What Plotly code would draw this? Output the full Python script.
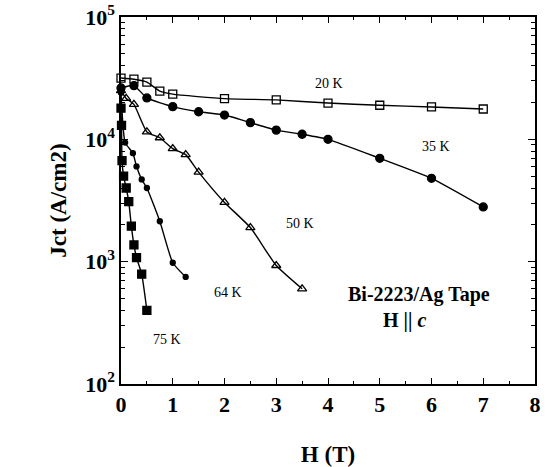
import plotly.graph_objects as go

# Critical current density vs applied field, Bi-2223/Ag tape, H || c
h_20k = [0.0, 0.25, 0.5, 0.75, 1.0, 2.0, 3.0, 4.0, 5.0, 6.0, 7.0]
j_20k = [31700, 31000, 29400, 24800, 23400, 21500, 21000, 19800, 19000, 18400, 17700]

h_35k = [0.0, 0.25, 0.5, 1.0, 1.5, 2.0, 2.5, 3.0, 3.5, 4.0, 5.0, 6.0, 7.0]
j_35k = [26300, 27500, 21800, 18500, 16800, 15800, 13700, 11900, 11000, 10000, 7000, 4800, 2800]

h_50k = [0.0, 0.1, 0.25, 0.5, 0.75, 1.0, 1.25, 1.5, 2.0, 2.5, 3.0, 3.5]
j_50k = [25000, 21600, 19300, 11500, 10300, 8400, 7500, 5400, 3050, 1900, 930, 600]

h_64k = [0.0, 0.08, 0.23, 0.3, 0.4, 0.5, 0.75, 1.0, 1.25]
j_64k = [24000, 9400, 7700, 6000, 4700, 4000, 2140, 980, 750]

h_75k = [0.0, 0.01, 0.02, 0.05, 0.1, 0.15, 0.2, 0.25, 0.3, 0.4, 0.5]
j_75k = [18000, 13000, 6700, 5000, 4000, 3100, 1950, 1370, 1080, 790, 400]

y_tick_vals = [1e2, 1e3, 1e4, 1e5]
y_tick_text = ["<b>10<sup>2</sup></b>", "<b>10<sup>3</sup></b>",
               "<b>10<sup>4</sup></b>", "<b>10<sup>5</sup></b>"]
x_tick_vals = [0, 1, 2, 3, 4, 5, 6, 7, 8]
x_tick_text = ["<b>%d</b>" % v for v in x_tick_vals]

# minor tick positions on the log axis: 2..9 within each decade
y_minor_vals = [m * 10 ** d for d in (2, 3, 4) for m in range(2, 10)]

SERIF = "Liberation Serif, Times New Roman, serif"
BLACK = "black"

series = [
    (h_20k, j_20k, "square-open", 8, "20 K"),
    (h_35k, j_35k, "circle", 8, "35 K"),
    (h_50k, j_50k, "triangle-up-open", 8, "50 K"),
    (h_64k, j_64k, "circle", 5, "64 K"),
    (h_75k, j_75k, "square", 8, "75 K"),
]

fig = go.Figure()
for h, j, sym, size, name in series:
    fig.add_trace(go.Scatter(
        x=h, y=j, mode="lines+markers", name=name,
        line=dict(color=BLACK, width=1.4, shape="spline", smoothing=0.5),
        marker=dict(symbol=sym, size=size, color=BLACK,
                    line=dict(color=BLACK, width=1.3)),
        showlegend=False, cliponaxis=False,
    ))

# Temperature labels next to each curve (y in log10 units)
labels = [
    ("20 K", 4.02, 4.46),
    ("35 K", 6.09, 3.94),
    ("50 K", 3.46, 3.31),
    ("64 K", 2.07, 2.75),
    ("75 K", 0.89, 2.36),
]
for text, x, ly in labels:
    fig.add_annotation(x=x, y=ly, text=text, showarrow=False,
                       font=dict(family=SERIF, size=14, color=BLACK))

fig.add_annotation(x=5.76, y=2.73, text="<b>Bi-2223/Ag Tape</b>", showarrow=False,
                   font=dict(family=SERIF, size=20, color=BLACK))
fig.add_annotation(x=5.47, y=2.52, text="<b>H || <i>c</i></b>", showarrow=False,
                   font=dict(family=SERIF, size=20, color=BLACK))

fig.update_xaxes(
    range=[0, 8], tickvals=x_tick_vals, ticktext=x_tick_text,
    ticks="inside", ticklen=6, tickwidth=1, automargin=False,
    tickcolor=BLACK, showline=True, linecolor=BLACK, linewidth=1.5, mirror="ticks",
    showgrid=False, zeroline=False,
    minor=dict(ticks="inside", ticklen=3, dtick=0.5, tickcolor=BLACK, showgrid=False),
    tickfont=dict(family=SERIF, size=22, color=BLACK),
    title=dict(text="<b>H (T)</b>", font=dict(family=SERIF, size=23, color=BLACK), standoff=38),
)
fig.update_yaxes(
    type="log", range=[2, 5], tickvals=y_tick_vals, ticktext=y_tick_text,
    ticks="inside", ticklen=7, tickwidth=1, tickcolor=BLACK, automargin=False,
    showline=True, linecolor=BLACK, linewidth=1.5, mirror="ticks",
    showgrid=False, zeroline=False,
    minor=dict(ticks="inside", ticklen=4, tickcolor=BLACK, showgrid=False,
               tickvals=y_minor_vals),
    tickfont=dict(family=SERIF, size=22, color=BLACK),
    title=dict(text="<b>Jct (A/cm2)</b>", font=dict(family=SERIF, size=23, color=BLACK), standoff=12),
)

fig.update_layout(
    width=550, height=467,
    margin=dict(l=121, r=15, t=17, b=83),
    paper_bgcolor="white", plot_bgcolor="white",
)

fig.write_html("out.html")
